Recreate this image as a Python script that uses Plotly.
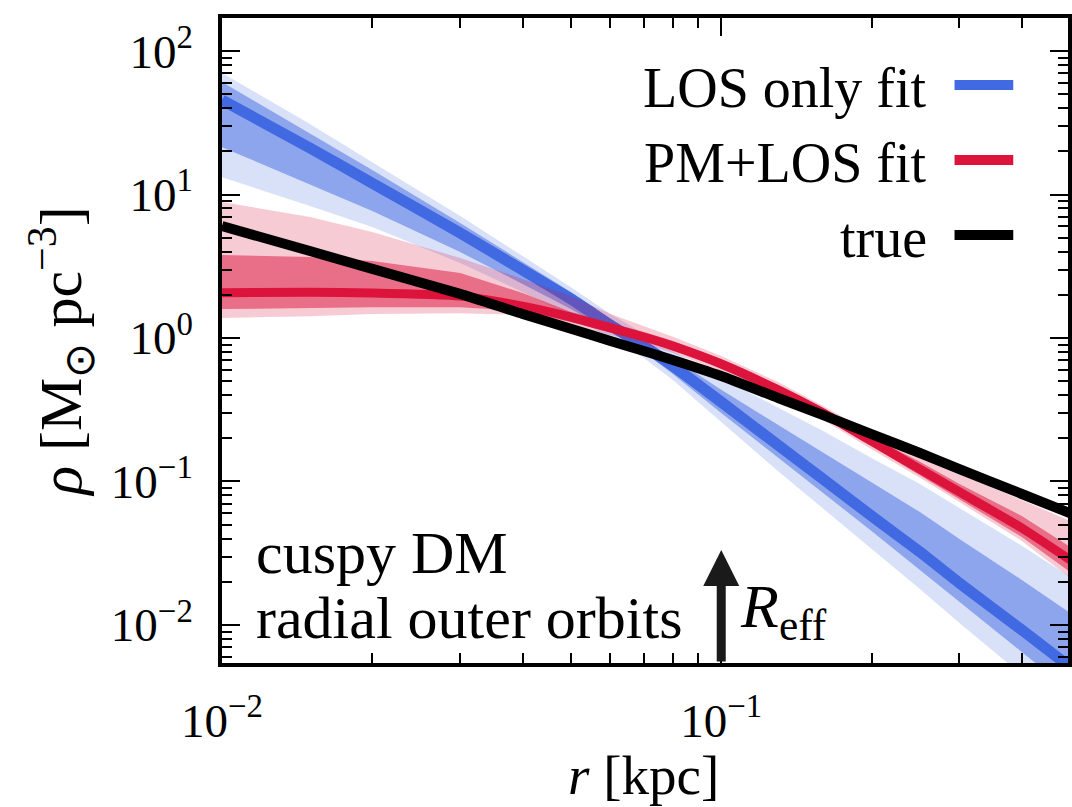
import math
import plotly.graph_objects as go

# ---------------- data ----------------
r_kpc = [0.01, 0.015, 0.02, 0.03, 0.04, 0.05, 0.06, 0.07, 0.08, 0.1,
         0.13, 0.16, 0.2, 0.25, 0.3, 0.4, 0.5]

rho_true = [6.03, 4.04, 3.03, 2.03, 1.47, 1.16, 0.953, 0.811, 0.703, 0.543,
            0.382, 0.29, 0.214, 0.158, 0.122, 0.0818, 0.060]

# PM+LOS fit (red)
pm_median = [2.07, 2.08, 2.06, 1.96, 1.67, 1.40, 1.175, 1.016, 0.879, 0.659,
             0.435, 0.300, 0.191, 0.122, 0.0845, 0.0474, 0.0284]
pm_hi95 = [8.87, 6.97, 5.48, 3.61, 2.58, 1.96, 1.47, 1.21, 1.02, 0.750,
           0.493, 0.336, 0.218, 0.151, 0.113, 0.0743, 0.0531]
pm_hi68 = [3.79, 3.67, 3.44, 2.84, 2.06, 1.52, 1.27, 1.10, 0.953, 0.714,
           0.470, 0.325, 0.204, 0.137, 0.0961, 0.0575, 0.035]
pm_lo68 = [1.59, 1.62, 1.64, 1.64, 1.54, 1.29, 1.10, 0.953, 0.824, 0.618,
           0.407, 0.281, 0.177, 0.111, 0.0755, 0.0410, 0.0234]
pm_lo95 = [1.38, 1.42, 1.47, 1.49, 1.45, 1.21, 1.05, 0.908, 0.785, 0.589,
           0.388, 0.269, 0.168, 0.106, 0.0719, 0.0385, 0.0213]

# LOS only fit (blue)
los_median = [45.6, 21.1, 12.0, 5.39, 2.98, 1.87, 1.23, 0.879, 0.638, 0.358,
              0.179, 0.104, 0.0575, 0.0323, 0.0196, 0.00923, 0.00509]
los_hi95 = [70.3, 31.0, 16.8, 7.08, 3.73, 2.26, 1.47, 1.07, 0.811, 0.526,
            0.325, 0.225, 0.146, 0.0961, 0.0653, 0.0356, 0.0216]
los_hi68 = [60.8, 26.8, 14.8, 6.33, 3.39, 2.09, 1.36, 0.968, 0.726, 0.435,
            0.248, 0.161, 0.0993, 0.0612, 0.0397, 0.0206, 0.0121]
los_lo68 = [21.4, 11.8, 7.67, 3.97, 2.38, 1.59, 1.10, 0.798, 0.561, 0.300,
            0.146, 0.0832, 0.0452, 0.0245, 0.0145, 0.00648, 0.00347]
los_lo95 = [13.2, 8.32, 5.94, 3.33, 2.09, 1.42, 1.0, 0.726, 0.509, 0.260,
            0.118, 0.0643, 0.0339, 0.0178, 0.0103, 0.00449, 0.00236]

r_eff = 0.1
r_eff_arrow_tip = 0.0333

x_range = [0.01, 0.495]
y_range = [0.00543, 170.0]

x_tickvals = [0.01, 0.1]
x_ticktext = ["10<sup>−2</sup>", "10<sup>−1</sup>"]
y_tickvals = [0.01, 0.1, 1, 10, 100]
y_ticktext = ["10<sup>−2</sup>", "10<sup>−1</sup>", "10<sup>0</sup>",
              "10<sup>1</sup>", "10<sup>2</sup>"]

legend_labels = ["LOS only fit", "PM+LOS fit", "true"]
note_lines = ["cuspy DM", "radial outer orbits"]

# ---------------- styling ----------------
BLUE = "rgb(65,105,225)"
RED = "rgb(220,20,60)"
BLUE_L = "rgba(65,105,225,0.20)"
BLUE_M = "rgba(65,105,225,0.50)"
RED_L = "rgba(220,20,60,0.22)"
RED_M = "rgba(220,20,60,0.50)"
SERIF = "Liberation Serif"

W, H = 1072, 807
ML, MT, MR, MB = 222, 18, 0, 144
PW, PH = W - ML - MR, H - MT - MB


def pxx(px):
    return (px - ML) / PW


def pxy(py):
    return (MT + PH - py) / PH


fig = go.Figure()


def band(lo, hi, color):
    fig.add_trace(go.Scatter(
        x=r_kpc + r_kpc[::-1], y=hi + lo[::-1], fill="toself",
        fillcolor=color, line=dict(width=0), mode="lines",
        hoverinfo="skip", showlegend=False))


def line(y, color, width):
    fig.add_trace(go.Scatter(
        x=r_kpc, y=y, mode="lines",
        line=dict(color=color, width=width, shape="spline", smoothing=0.5),
        showlegend=False))


band(los_lo95, los_hi95, BLUE_L)
band(los_lo68, los_hi68, BLUE_M)
line(los_median, BLUE, 11)
band(pm_lo95, pm_hi95, RED_L)
band(pm_lo68, pm_hi68, RED_M)
line(pm_median, RED, 9)
line(rho_true, "black", 10)

x_minor = [m * 10 ** e for e in (-2, -1) for m in range(2, 10)]
y_minor = [m * 10 ** e for e in (-3, -2, -1, 0, 1) for m in range(2, 10)]

axis_common = dict(
    type="log", showline=True, linecolor="black", linewidth=3.5,
    mirror="allticks", ticks="inside", ticklen=18, tickwidth=2,
    tickcolor="black", showgrid=False, zeroline=False,
    tickfont=dict(family=SERIF, size=47, color="black"),
)

fig.update_xaxes(
    **axis_common,
    range=[math.log10(x_range[0]), math.log10(x_range[1])],
    tickvals=x_tickvals, ticktext=x_ticktext, ticklabelstandoff=14,
    minor=dict(tickvals=x_minor, ticks="inside", ticklen=10, tickwidth=1.5,
               tickcolor="black", showgrid=False),
)
fig.update_yaxes(
    **axis_common,
    range=[math.log10(y_range[0]), math.log10(y_range[1])],
    tickvals=y_tickvals, ticktext=y_ticktext, ticklabelstandoff=16,
    minor=dict(tickvals=y_minor, ticks="inside", ticklen=10, tickwidth=1.5,
               tickcolor="black", showgrid=False),
)

shapes = []
annotations = []

# axis titles
annotations.append(dict(
    xref="paper", yref="paper", x=pxx(645), y=pxy(775),
    xanchor="center", yanchor="middle", showarrow=False,
    text="<i>r</i> [kpc]", font=dict(family=SERIF, size=55, color="black")))
annotations.append(dict(
    xref="paper", yref="paper", x=pxx(60), y=pxy(352),
    xanchor="center", yanchor="middle", showarrow=False, textangle=-90,
    text="<i>ρ</i> [M<sub>⊙</sub> pc<sup>−3</sup>]",
    font=dict(family=SERIF, size=60, color="black")))

# legend (text on the left, line sample on the right)
legend_colors = [BLUE, RED, "black"]
rows = [85, 160, 235]
for lab, col, yrow in zip(legend_labels, legend_colors, rows):
    annotations.append(dict(
        xref="paper", yref="paper", x=pxx(932), y=pxy(yrow + 3),
        xanchor="right", yanchor="middle", showarrow=False, text=lab,
        font=dict(family=SERIF, size=56, color="black")))
    shapes.append(dict(
        type="line", xref="paper", yref="paper",
        x0=pxx(958), x1=pxx(1017), y0=pxy(yrow), y1=pxy(yrow),
        line=dict(color=col, width=10)))

# text label (two lines)
for txt, ybot in zip(note_lines, [588, 653]):
    annotations.append(dict(
        xref="paper", yref="paper", x=pxx(254), y=pxy(ybot),
        xanchor="left", yanchor="bottom", align="left", showarrow=False,
        text=txt, font=dict(family=SERIF, size=60, color="black")))

# R_eff arrow
annotations.append(dict(
    xref="x", yref="y", axref="x", ayref="y",
    x=math.log10(r_eff), y=math.log10(r_eff_arrow_tip),
    ax=math.log10(r_eff), ay=math.log10(y_range[0]),
    showarrow=True, arrowhead=2, arrowsize=0.8, arrowwidth=9,
    arrowcolor="#1a1a1a", text=""))
annotations.append(dict(
    xref="paper", yref="paper", x=pxx(740), y=pxy(610),
    xanchor="left", yanchor="middle", showarrow=False,
    text="<i>R</i><sub>eff</sub>",
    font=dict(family=SERIF, size=62, color="black")))

fig.update_layout(
    width=W, height=H,
    margin=dict(l=ML, r=MR, t=MT, b=MB, pad=0),
    plot_bgcolor="white", paper_bgcolor="white",
    showlegend=False, shapes=shapes, annotations=annotations,
)

fig.write_html("out.html")
